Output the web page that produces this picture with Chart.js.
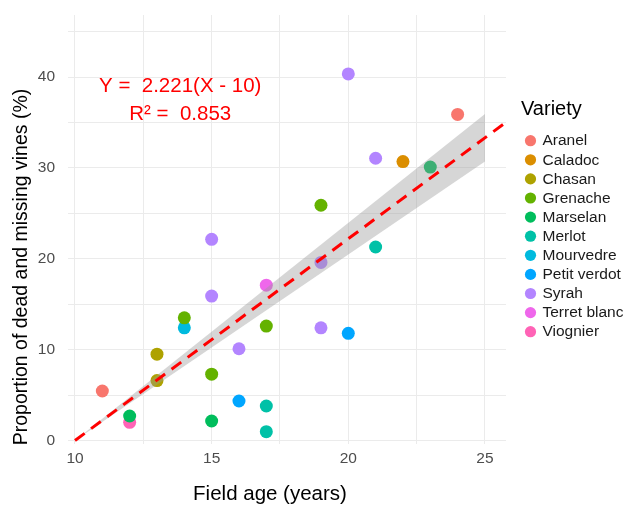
<!DOCTYPE html>
<html>
<head>
<meta charset="utf-8">
<script src="https://cdn.jsdelivr.net/npm/chart.js@4.4.1/dist/chart.umd.min.js"></script>
<style>
  html, body { margin: 0; padding: 0; background: #ffffff; }
  #wrap { width: 625px; height: 505px; position: relative; }
</style>
</head>
<body>
<div id="wrap"><canvas id="c" width="625" height="505"></canvas></div>
<script>
// ---- Data ----
const varieties = ['Aranel','Caladoc','Chasan','Grenache','Marselan','Merlot','Mourvedre','Petit verdot','Syrah','Terret blanc','Viognier'];
const varietyColors = ['#F8766D','#DB8E00','#AEA200','#64B200','#00BD5C','#00C1A7','#00BADE','#00A6FF','#B385FF','#EF67EB','#FF63B6'];

const pointVariety = ['Aranel','Aranel','Caladoc','Chasan','Chasan','Grenache','Grenache','Grenache','Grenache','Marselan','Marselan','Marselan','Merlot','Merlot','Merlot','Mourvedre','Petit verdot','Petit verdot','Syrah','Syrah','Syrah','Syrah','Syrah','Syrah','Syrah','Terret blanc','Viognier'];
const fieldAge = [11, 24, 22, 13, 13, 14, 15, 17, 19, 12, 15, 23, 17, 17, 21, 14, 16, 20, 15, 15, 16, 19, 19, 20, 21, 17, 12];
const deadMissing = [5.45, 35.9, 30.7, 9.5, 6.6, 13.5, 7.3, 12.6, 25.9, 2.7, 2.15, 30.1, 3.8, 0.97, 21.3, 12.4, 4.35, 11.8, 22.15, 15.9, 10.1, 19.6, 12.4, 40.35, 31.07, 17.1, 2.0];

// fitted line Y = 2.221(X - 10) and its confidence band (endpoints)
const fitX = [10, 25.77];
const fitY = [0, 35.03];
const bandX = [10, 25];
const bandUpper = [0, 35.94];
const bandLower = [0, 30.7];

const xTickLabels = [10, 15, 20, 25];
const yTickLabels = [0, 10, 20, 30, 40];

const equationText = 'Y =  2.221(X - 10)';
const r2Text = 'R\u00B2 =  0.853';
const xTitle = 'Field age (years)';
const yTitle = 'Proportion of dead and missing vines (%)';
const legendTitle = 'Variety';

// ---- Build datasets ----
const FONT = "'Liberation Sans', Arial, Helvetica, sans-serif";
const datasets = [];

datasets.push({
  type: 'line', label: '__fit', order: 0,
  data: fitX.map((x, i) => ({x, y: fitY[i]})),
  borderColor: '#FF0000', borderWidth: 3, borderDash: [12, 8],
  pointRadius: 0, fill: false, tension: 0
});
datasets.push({
  type: 'line', label: '__bandUpper', order: 1,
  data: bandX.map((x, i) => ({x, y: bandUpper[i]})),
  borderWidth: 0, borderColor: 'rgba(0,0,0,0)', pointRadius: 0,
  backgroundColor: 'rgba(153,153,153,0.4)', fill: '+1', tension: 0
});
datasets.push({
  type: 'line', label: '__bandLower', order: 1,
  data: bandX.map((x, i) => ({x, y: bandLower[i]})),
  borderWidth: 0, borderColor: 'rgba(0,0,0,0)', pointRadius: 0, fill: false, tension: 0
});

varieties.forEach((v, k) => {
  const pts = [];
  pointVariety.forEach((pv, i) => { if (pv === v) pts.push({x: fieldAge[i], y: deadMissing[i]}); });
  datasets.push({
    type: 'scatter', label: v, order: 2,
    data: pts,
    backgroundColor: varietyColors[k], borderColor: varietyColors[k],
    borderWidth: 0, pointRadius: 6.5, pointHoverRadius: 6.5
  });
});

// ---- Plugin for annotation text, axis titles and legend ----
const extras = {
  id: 'extras',
  afterDraw(chart) {
    const ctx = chart.ctx;
    const xs = chart.scales.x, ys = chart.scales.y;
    ctx.save();
    // equation
    ctx.fillStyle = '#FF0000';
    ctx.font = '20.5px ' + FONT;
    ctx.textAlign = 'center';
    ctx.textBaseline = 'alphabetic';
    ctx.fillText(equationText, xs.getPixelForValue(13.85), ys.getPixelForValue(38.4));
    ctx.fillText(r2Text, xs.getPixelForValue(13.85), ys.getPixelForValue(35.3));

    // axis titles
    ctx.fillStyle = '#000000';
    ctx.font = '20.5px ' + FONT;
    ctx.textAlign = 'center';
    ctx.fillText(xTitle, 270, 500);
    ctx.save();
    ctx.translate(27, 267);
    ctx.rotate(-Math.PI / 2);
    ctx.font = '19.5px ' + FONT;
    ctx.fillText(yTitle, 0, 0);
    ctx.restore();

    // legend
    ctx.textAlign = 'left';
    ctx.font = '20px ' + FONT;
    ctx.fillStyle = '#000000';
    ctx.fillText(legendTitle, 521, 114.5);
    ctx.font = '15.5px ' + FONT;
    ctx.textBaseline = 'middle';
    const items = chart.data.datasets.filter(d => d.type === 'scatter');
    items.forEach((d, i) => {
      const cy = 140.7 + i * 19.1;
      ctx.beginPath();
      ctx.arc(530.5, cy, 5.6, 0, Math.PI * 2);
      ctx.fillStyle = d.backgroundColor;
      ctx.fill();
      ctx.fillStyle = '#1A1A1A';
      ctx.fillText(d.label, 542.5, cy + 0.5);
    });
    ctx.restore();
  }
};

Chart.defaults.font.family = FONT;

new Chart(document.getElementById('c'), {
  data: { datasets },
  options: {
    responsive: false,
    animation: false,
    events: [],
    layout: { padding: { top: 15, right: 119, left: 0, bottom: 0 } },
    plugins: { legend: { display: false }, tooltip: { enabled: false }, title: { display: false } },
    scales: {
      x: {
        type: 'linear', position: 'bottom',
        min: 9.744, max: 25.77,
        border: { display: false },
        grid: { color: '#EBEBEB', lineWidth: 1, drawTicks: false },
        ticks: {
          stepSize: 2.5, includeBounds: false, autoSkip: false, maxRotation: 0,
          padding: 5, color: '#4D4D4D', font: { size: 15.5 },
          callback: (v) => xTickLabels.includes(v) ? String(v) : ''
        },
        afterFit: (s) => { s.height = 61; s.paddingLeft = 0; s.paddingRight = 0; }
      },
      y: {
        type: 'linear', position: 'left',
        min: -0.385, max: 46.84,
        border: { display: false },
        grid: { color: '#EBEBEB', lineWidth: 1, drawTicks: false },
        ticks: {
          stepSize: 5, includeBounds: false, autoSkip: false,
          padding: 13, color: '#4D4D4D', font: { size: 15.5 },
          callback: (v) => yTickLabels.includes(v) ? String(v) : ''
        },
        afterFit: (s) => { s.width = 68; s.paddingTop = 0; s.paddingBottom = 0; }
      }
    }
  },
  plugins: [extras]
});
</script>
</body>
</html>
